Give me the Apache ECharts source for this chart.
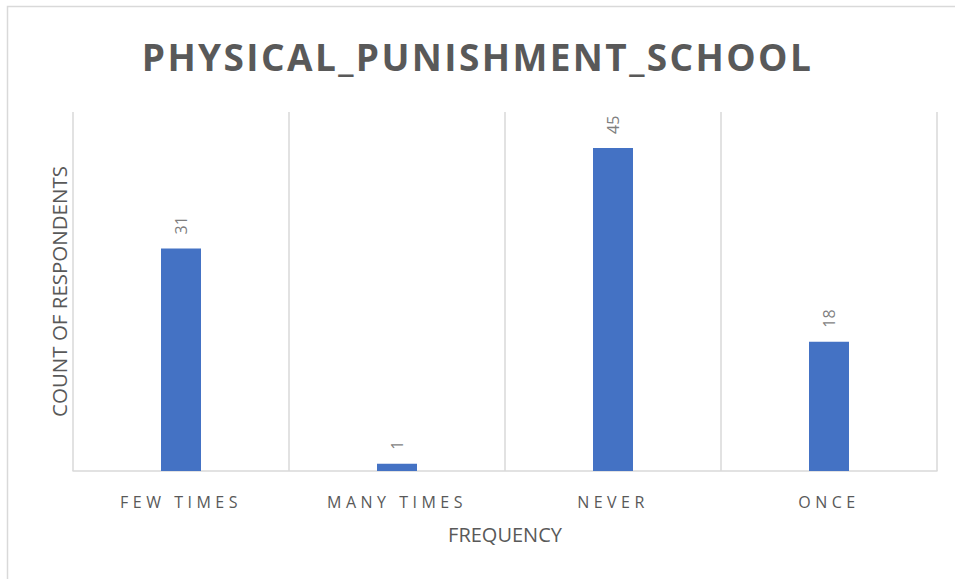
<!DOCTYPE html>
<html>
<head>
<meta charset="utf-8">
<script src="https://cdn.jsdelivr.net/npm/echarts@6/dist/echarts.min.js"></script>
<style>
  html, body { margin: 0; padding: 0; background: #fff; }
  #main { width: 955px; height: 579px; }
</style>
</head>
<body>
<div id="main"></div>
<script>
// data
var categories = ['FEW TIMES', 'MANY TIMES', 'NEVER', 'ONCE'];
var counts = [31, 1, 45, 18];
var yMax = 50;
var titleText = 'PHYSICAL_PUNISHMENT_SCHOOL';

var dom = document.getElementById('main');
var chart = echarts.init(dom, null, { renderer: 'svg' });
chart.setOption({
  backgroundColor: '#fff',
  animation: false,
  // outer frame of the chart area
  graphic: [{
    type: 'rect',
    shape: { x: 7.5, y: 6.5, width: 960, height: 600 },
    style: { fill: 'none', stroke: '#d9d9d9', lineWidth: 1.5 },
    silent: true
  }],
  title: {
    text: titleText,
    left: 'center',
    top: 33,
    textStyle: {
      fontFamily: 'Open Sans',
      fontWeight: 'bold',
      fontSize: 37,
      color: '#595959'
    }
  },
  grid: {
    left: 73,
    right: 18,
    top: 112,
    bottom: 108
  },
  xAxis: {
    type: 'category',
    data: categories,
    name: 'FREQUENCY',
    nameLocation: 'middle',
    nameGap: 53,
    nameTextStyle: {
      fontFamily: 'Open Sans',
      fontSize: 20,
      color: '#595959'
    },
    axisLine: { show: true, lineStyle: { color: '#d9d9d9', width: 1.5 } },
    axisTick: { show: false },
    splitLine: { show: true, lineStyle: { color: '#d9d9d9', width: 1.5 } },
    axisLabel: {
      margin: 23,
      fontFamily: 'Open Sans',
      fontSize: 16,
      color: '#595959'
    }
  },
  yAxis: {
    type: 'value',
    min: 0,
    max: yMax,
    name: 'COUNT OF RESPONDENTS',
    nameLocation: 'middle',
    nameGap: 4,
    nameTextStyle: {
      fontFamily: 'Open Sans',
      fontSize: 20.5,
      color: '#595959',
      verticalAlign: 'bottom'
    },
    axisLine: { show: false },
    axisTick: { show: false },
    axisLabel: { show: false },
    splitLine: { show: false }
  },
  series: [{
    type: 'bar',
    data: counts,
    barWidth: 40,
    itemStyle: { color: '#4472c4' },
    label: {
      show: true,
      position: 'top',
      rotate: 90,
      align: 'left',
      verticalAlign: 'middle',
      distance: 14,
      fontFamily: 'Open Sans',
      fontSize: 16,
      color: '#7f7f7f'
    }
  }]
});

// the original uses spaced-out capitals; add tracking to those texts
function addSpacing() {
  dom.querySelectorAll('text').forEach(function (t) {
    var s = t.textContent;
    if (s === titleText) {
      t.style.letterSpacing = '2.4px';
    } else if (categories.indexOf(s) >= 0) {
      t.style.letterSpacing = '4.5px';
    }
  });
}
chart.on('finished', addSpacing);
addSpacing();
setTimeout(addSpacing, 50);
</script>
</body>
</html>
